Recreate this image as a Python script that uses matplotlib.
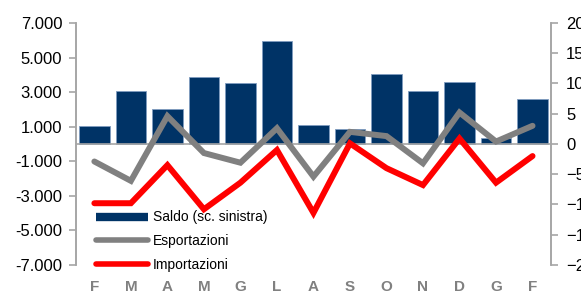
import numpy as np
import matplotlib.pyplot as plt
from matplotlib.lines import Line2D

plt.rcParams['font.family'] = ['Liberation Sans', 'DejaVu Sans']

months = ['F', 'M', 'A', 'M', 'G', 'L', 'A', 'S', 'O', 'N', 'D', 'G', 'F']
saldo = [1030, 3080, 2000, 3890, 3540, 5970, 1070, 840, 4060, 3080, 3600, 340, 2590]
esportazioni = [-2.9, -6.1, 4.6, -1.5, -3.1, 2.6, -5.4, 2.0, 1.3, -3.2, 5.2, 0.4, 3.0]
importazioni = [-9.8, -9.8, -3.5, -10.8, -6.4, -1.0, -11.4, 0.1, -4.0, -6.8, 0.9, -6.4, -2.0]

left_ticks = [-7000, -5000, -3000, -1000, 1000, 3000, 5000, 7000]
right_ticks = [-20, -15, -10, -5, 0, 5, 10, 15, 20]

navy = '#003366'
grey = '#808080'
red = '#ff0000'
axis_grey = '#a6a6a6'

fig = plt.figure(figsize=(5.81, 2.95), dpi=100)
ax = fig.add_axes([0.131, 0.102, 0.817, 0.82])
x = np.arange(len(months))

ax.bar(x, saldo, width=0.84, color=navy, edgecolor='#7f9cc0', linewidth=0.6, zorder=2)
ax.axhline(0, color=axis_grey, lw=1.2, zorder=3)
ax.set_ylim(-7000, 7000)
ax.set_xlim(-0.5, len(months) - 0.5)
ax.set_yticks(left_ticks)
ax.set_yticklabels([f'{v:,}'.replace(',', '.') for v in left_ticks])
ax.set_xticks(x)
ax.set_xticklabels(months, color=grey, fontweight='bold', fontsize=11)
ax.tick_params(axis='x', length=0, pad=11)
ax.tick_params(axis='y', labelsize=12, colors=axis_grey, labelcolor='black', length=5, width=1.2, pad=5)

ax2 = ax.twinx()
ax2.plot(x, esportazioni, color=grey, lw=4.3, solid_capstyle='round', solid_joinstyle='miter', zorder=3)
ax2.plot(x, importazioni, color=red, lw=4.3, solid_capstyle='round', solid_joinstyle='miter', zorder=4)
ax2.set_ylim(-20, 20)
ax2.set_yticks(right_ticks)
ax2.tick_params(axis='y', labelsize=12, colors=axis_grey, labelcolor='black', length=5, width=1.2, pad=6)

for a in (ax, ax2):
    a.spines['top'].set_visible(False)
    a.spines['bottom'].set_visible(False)
    a.spines['left'].set_color(axis_grey)
    a.spines['right'].set_color(axis_grey)
    a.spines['left'].set_linewidth(1.2)
    a.spines['right'].set_linewidth(1.2)

handles = [
    Line2D([], [], color=navy, lw=6, solid_capstyle='butt'),
    Line2D([], [], color=grey, lw=4, solid_capstyle='round'),
    Line2D([], [], color=red, lw=4, solid_capstyle='round'),
]
labels = ['Saldo (sc. sinistra)', 'Esportazioni', 'Importazioni']
leg = ax2.legend(handles, labels, loc='lower left', bbox_to_anchor=(0.03, -0.052),
                 borderaxespad=0, frameon=False, fontsize=10, handlelength=3.75,
                 handletextpad=0.36, labelspacing=0.7)

fig.savefig('out.png', dpi=100)
